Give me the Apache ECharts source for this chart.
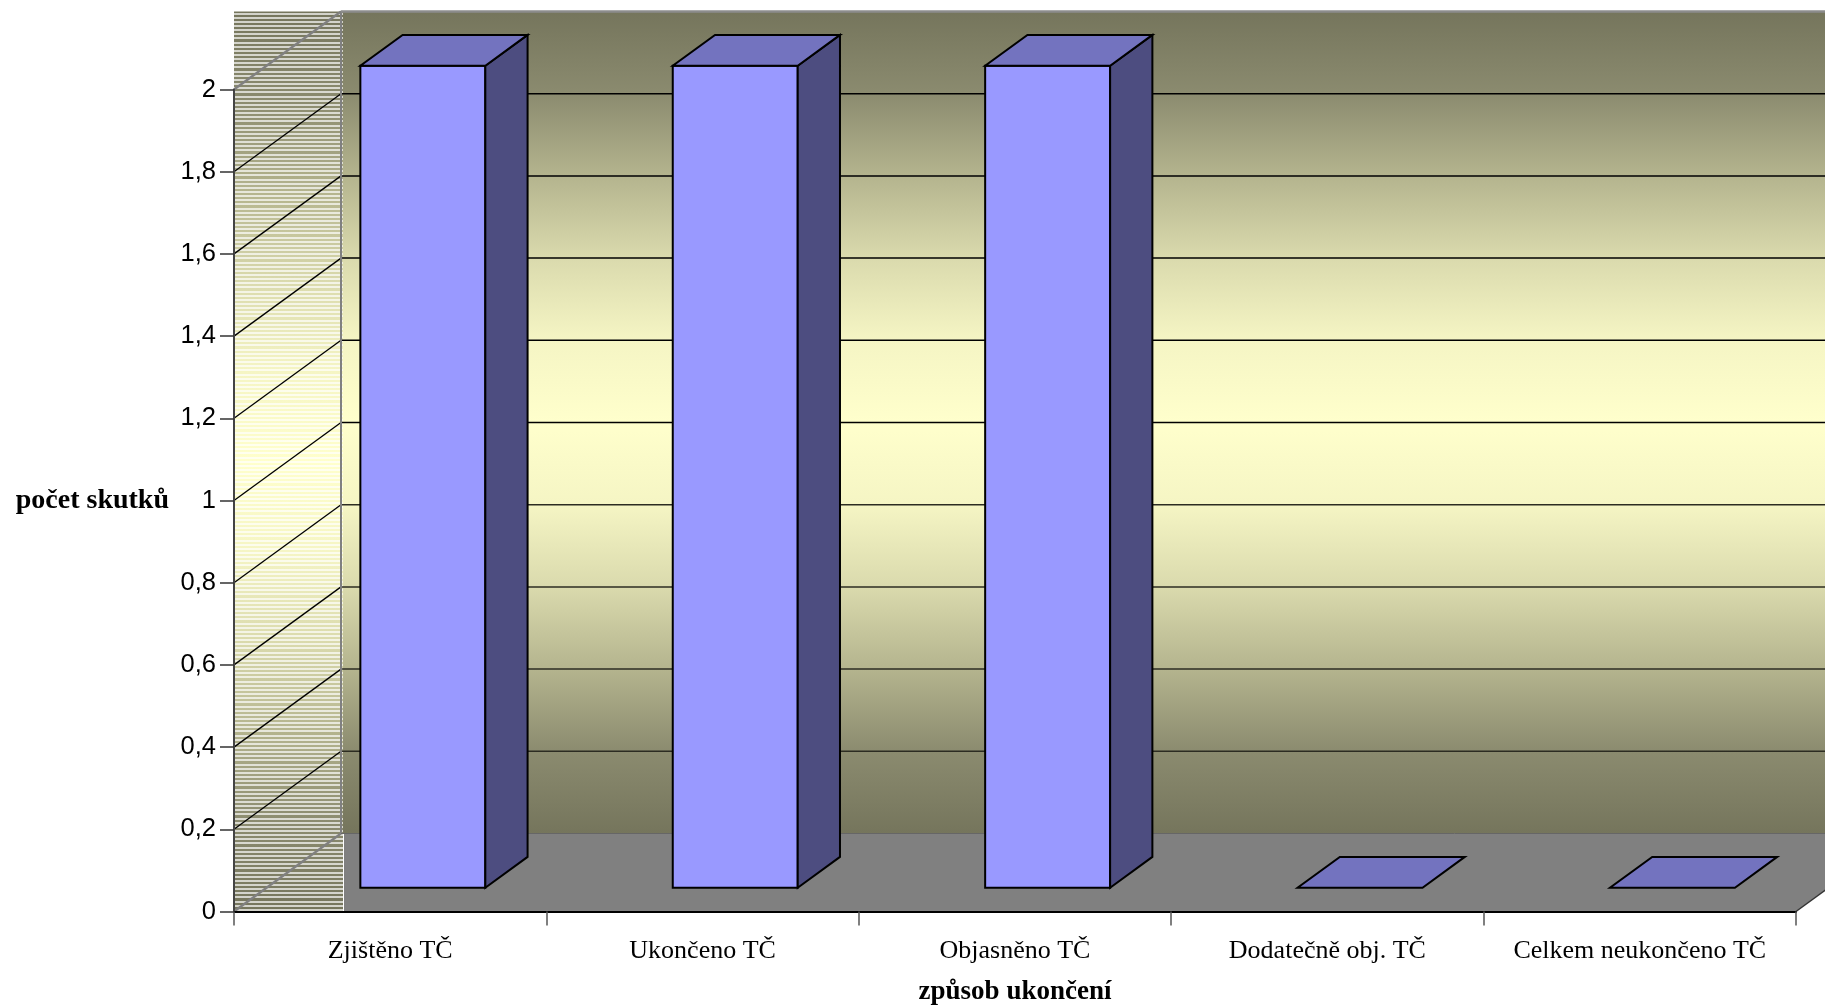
<!DOCTYPE html>
<html lang="cs">
<head>
<meta charset="utf-8">
<title>Počet skutků podle způsobu ukončení</title>
<style>
  html, body { margin: 0; padding: 0; background: #fff; }
  #chart { width: 1825px; height: 1006px; }
</style>
<script src="https://cdn.jsdelivr.net/npm/echarts@6/dist/echarts.min.js"></script>
</head>
<body>
<div id="chart"></div>
<script>
// Kategorie a hodnoty grafu
const categories = ['Zjištěno TČ', 'Ukončeno TČ', 'Objasněno TČ', 'Dodatečně obj. TČ', 'Celkem neukončeno TČ'];
const skutky = [2, 2, 2, 0, 0];
const yTicks = [0, 0.2, 0.4, 0.6, 0.8, 1, 1.2, 1.4, 1.6, 1.8, 2];
const yMax = 2;

// Prostorové odsazení zadní stěny a hloubka sloupců (podíl odsazení)
const depthX = 107;
const depthY = 78;
const barFront = 0.305;
const barBack = 0.7;
const gapRatio = 2.5;

const wallStops = [
  { offset: 0, color: '#75755C' },
  { offset: 0.1, color: '#8B8B6F' },
  { offset: 0.2, color: '#B4B48E' },
  { offset: 0.3, color: '#DADAAD' },
  { offset: 0.4, color: '#F5F5C4' },
  { offset: 0.5, color: '#FFFFCC' },
  { offset: 0.6, color: '#F5F5C4' },
  { offset: 0.7, color: '#DADAAD' },
  { offset: 0.8, color: '#B4B48E' },
  { offset: 0.9, color: '#8B8B6F' },
  { offset: 1, color: '#75755C' }
];
const wallFill = { type: 'linear', x: 0, y: 0, x2: 0, y2: 1, colorStops: wallStops };

function line(x1, y1, x2, y2, stroke, lineWidth) {
  return { type: 'line', shape: { x1, y1, x2, y2 }, style: { stroke, lineWidth, fill: null } };
}

// Zadní stěna, podlaha, šrafovaná boční stěna a mřížka
function renderBackdrop(params, api) {
  const cs = params.coordSys;
  const left = cs.x;
  const right = cs.x + cs.width;
  const yZero = api.coord([0, 0])[1];
  const yTop = api.coord([0, yMax])[1];
  const backLeft = left + depthX;
  const backRight = right + depthX;
  const backTop = yTop - depthY;
  const backBottom = yZero - depthY;
  const children = [];

  children.push({
    type: 'rect',
    shape: { x: backLeft, y: backTop, width: backRight - backLeft, height: backBottom - backTop },
    style: { fill: wallFill }
  });
  children.push({
    type: 'polygon',
    shape: { points: [[left, yZero], [backLeft, backBottom], [backRight, backBottom], [right, yZero]] },
    style: { fill: '#808080' }
  });

  // Boční stěna: přechod překrytý světlými vodorovnými proužky
  children.push({
    type: 'rect',
    shape: { x: left, y: backTop, width: depthX + 2, height: yZero - backTop },
    style: { fill: wallFill }
  });
  for (let y = backTop + 1; y < yZero - 1; y += 4.15) {
    children.push({
      type: 'rect',
      shape: { x: left, y: Math.round(y), width: depthX + 2, height: 2 },
      style: { fill: 'rgba(255,255,255,0.68)' }
    });
  }
  children.push({
    type: 'rect',
    shape: { x: backLeft + 2, y: backBottom, width: 1, height: yZero - backBottom },
    style: { fill: '#fff' }
  });

  // Mřížka na zadní stěně a na boční stěně
  yTicks.forEach(function (t) {
    const y = api.coord([0, t])[1];
    const edge = t === 0 || t === yMax;
    if (!edge) {
      children.push(line(backLeft, y - depthY, backRight, y - depthY, t < 1 ? '#2c2c22' : '#000', 1.5));
    }
    children.push(line(left, y, backLeft, y - depthY, edge ? '#808080' : '#000', edge ? 2.2 : 1.3));
  });

  // Hrany stěn
  children.push(line(backLeft, backTop, backLeft, backBottom, '#808080', 2));
  children.push(line(backLeft, backTop, backRight, backTop, '#8c8c8c', 2.5));
  children.push(line(backLeft, backBottom, backRight, backBottom, '#666', 1));
  children.push(line(right, yZero, backRight, backBottom, '#333', 1.5));

  return { type: 'group', children };
}

// Sloupec jako tři plochy: čelo, vršek a bok
function renderBar(params, api) {
  const idx = api.value(0);
  const top = api.coord([idx, api.value(1)]);
  const base = api.coord([idx, 0]);
  const halfWidth = api.size([1, 0])[0] / gapRatio / 2;
  const fx = depthX * barFront;
  const fy = depthY * barFront;
  const bx = depthX * barBack;
  const by = depthY * barBack;
  const xl = top[0] - halfWidth;
  const xr = top[0] + halfWidth;
  const outline = { stroke: '#000', lineWidth: 2, lineJoin: 'miter' };
  const children = [];
  const hasHeight = base[1] - top[1] > 0;

  if (hasHeight) {
    children.push({
      type: 'polygon',
      shape: { points: [[xl + fx, base[1] - fy], [xr + fx, base[1] - fy], [xr + fx, top[1] - fy], [xl + fx, top[1] - fy]] },
      style: Object.assign({ fill: '#9999FF' }, outline)
    });
    children.push({
      type: 'polygon',
      shape: { points: [[xr + fx, base[1] - fy], [xr + bx, base[1] - by], [xr + bx, top[1] - by], [xr + fx, top[1] - fy]] },
      style: Object.assign({ fill: '#4D4D80' }, outline)
    });
  }
  children.push({
    type: 'polygon',
    shape: { points: [[xl + fx, top[1] - fy], [xr + fx, top[1] - fy], [xr + bx, top[1] - by], [xl + bx, top[1] - by]] },
    style: Object.assign({ fill: '#7373BF' }, outline)
  });
  return { type: 'group', children };
}

const chart = echarts.init(document.getElementById('chart'), null, { renderer: 'canvas' });
chart.setOption({
  animation: false,
  backgroundColor: '#fff',
  grid: { left: 234, right: 29, top: 89.5, bottom: 94.5, outerBoundsMode: 'none', containLabel: false },
  xAxis: {
    type: 'category',
    data: categories,
    z: 5,
    name: 'způsob ukončení',
    nameLocation: 'middle',
    nameGap: 67,
    nameTextStyle: { fontFamily: 'Liberation Serif', fontWeight: 'bold', fontSize: 27, color: '#000' },
    axisLine: { lineStyle: { color: '#000', width: 2 } },
    axisTick: { show: true, alignWithLabel: false, interval: 0, length: 14, lineStyle: { color: '#555', width: 1.5 } },
    axisLabel: { fontFamily: 'Liberation Serif', fontSize: 26, color: '#000', margin: 27, interval: 0 }
  },
  yAxis: {
    type: 'value',
    min: 0,
    max: yMax,
    interval: 0.2,
    z: 5,
    name: 'počet skutků',
    nameLocation: 'middle',
    nameRotate: 0,
    nameGap: 65,
    nameTextStyle: { fontFamily: 'Liberation Serif', fontWeight: 'bold', fontSize: 28, color: '#000', padding: [9, 0, 0, 0] },
    axisLine: { show: true, lineStyle: { color: '#444', width: 2 } },
    axisTick: { show: true, length: 14, lineStyle: { color: '#333', width: 1.5 } },
    axisLabel: {
      fontFamily: 'Liberation Sans',
      fontSize: 25.5,
      color: '#000',
      margin: 18,
      formatter: function (v) { return String(v).replace('.', ','); }
    },
    splitLine: { show: false }
  },
  series: [
    {
      type: 'custom',
      silent: true,
      z: 1,
      renderItem: renderBackdrop,
      data: [[0, 0]],
      encode: { x: 0, y: 1 }
    },
    {
      type: 'custom',
      silent: true,
      z: 2,
      renderItem: renderBar,
      data: skutky.map(function (v, i) { return [i, v]; }),
      encode: { x: 0, y: 1 }
    }
  ]
});
</script>
</body>
</html>
